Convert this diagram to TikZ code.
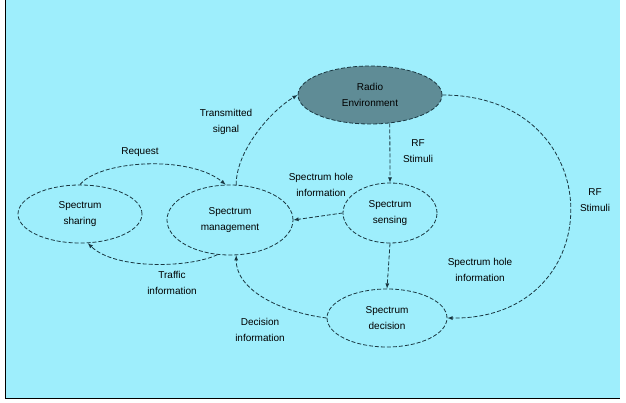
\documentclass[tikz,border=0pt]{standalone}
\usepackage{fontspec}
\setmainfont{Liberation Sans}
\usetikzlibrary{shapes.geometric}

\definecolor{skycyan}{RGB}{158,238,252}
\definecolor{envgray}{RGB}{95,140,150}
\definecolor{linedark}{RGB}{25,55,65}

\tikzset{
  block/.style={ellipse, draw=linedark, dash pattern=on 4pt off 2pt, line width=0.8pt,
    align=center, font=\fontsize{10}{16}\selectfont, inner sep=0pt},
  flow/.style={-latex, draw=linedark, dash pattern=on 4pt off 2pt, line width=0.8pt},
  lbl/.style={align=center, font=\fontsize{10}{16}\selectfont}
}

\begin{document}
\begin{tikzpicture}[x=1pt,y=-1pt]

% frame
\useasboundingbox (0,0) rectangle (626,403);
\fill[white] (0,0) rectangle (626,403);
\fill[skycyan] (5,0) rectangle (620,398);
\draw[black, line width=1pt] (5,0) -- (5,398) -- (620,398);

% blocks
\node[block, fill=envgray, minimum width=144pt, minimum height=58pt] (env) at (370,95) {Radio\\Environment};
\node[block, minimum width=124pt, minimum height=58pt] (sharing) at (80,214) {Spectrum\\sharing};
\node[block, minimum width=126pt, minimum height=70pt] (mgmt) at (230,220) {Spectrum\\management};
\node[block, minimum width=94pt, minimum height=60pt] (sensing) at (390,213) {Spectrum\\sensing};
\node[block, minimum width=120pt, minimum height=58pt] (decision) at (387,318) {Spectrum\\decision};

% arrows
\draw[flow] (mgmt.80) .. controls (236,150) and (272,110) .. (env.west);
\draw[flow] (env.-55) -- (sensing.north);
\draw[flow] (sensing.west) -- (mgmt.east);
\draw[flow] (sensing.south) -- (decision.north);
\draw[flow] (env.east) .. controls (612,95) and (612,320) .. (decision.east);
\draw[flow] (mgmt.-110) .. controls (190,268) and (115,270) .. (sharing.-75);
\draw[flow] (sharing.north) .. controls (100,160) and (190,155) .. (mgmt.97);
\draw[flow] (decision.west) .. controls (280,312) and (236,290) .. (mgmt.-80);

% labels
\node[lbl] (l1) at (226,122) {Transmitted\\signal};
\node[lbl] (l2) at (418,151) {RF\\Stimuli};
\node[lbl] (l3) at (321,185) {Spectrum hole\\information};
\node[lbl] (l4) at (480,270) {Spectrum hole\\information};
\node[lbl] (l5) at (595,200) {RF\\Stimuli};
\node[lbl] (l6) at (140,152) {Request};
\node[lbl] (l7) at (172,283) {Traffic\\information};
\node[lbl] (l8) at (260,330) {Decision\\information};

\end{tikzpicture}
\end{document}
